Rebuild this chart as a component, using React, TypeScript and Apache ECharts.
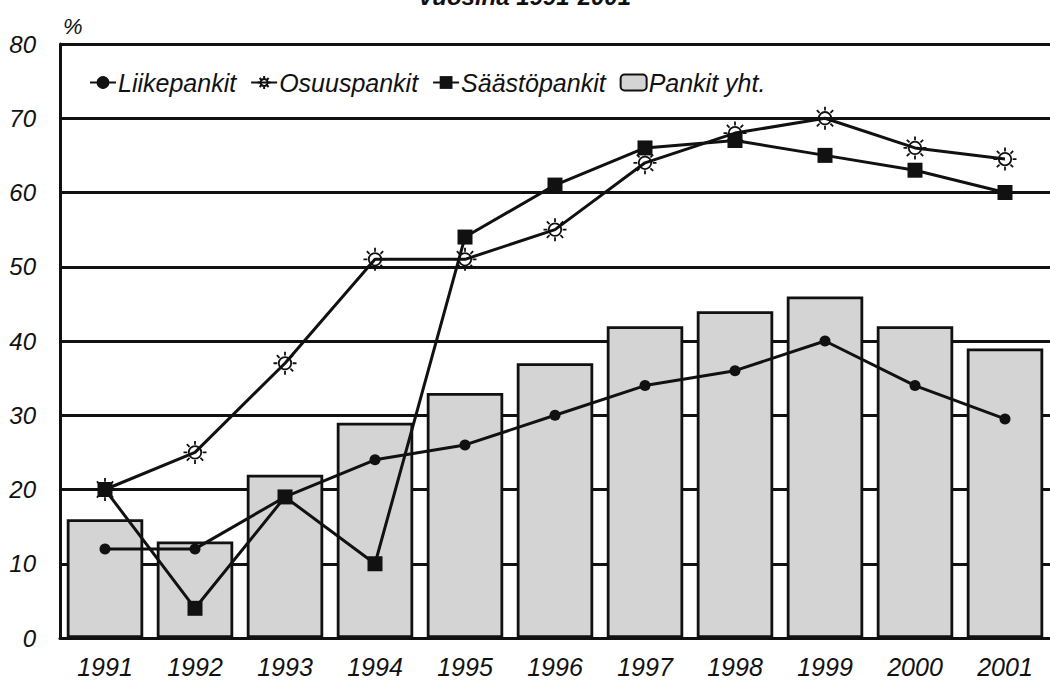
import React, { useEffect, useRef } from "react";
import * as echarts from "echarts";

const years = ["1991", "1992", "1993", "1994", "1995", "1996", "1997", "1998", "1999", "2000", "2001"];
const liikepankit = [12, 12, 19, 24, 26, 30, 34, 36, 40, 34, 29.5];
const osuuspankit = [20, 25, 37, 51, 51, 55, 64, 68, 70, 66, 64.5];
const saastopankit = [20, 4, 19, 10, 54, 61, 66, 67, 65, 63, 60];
const pankitYht = [16, 13, 22, 29, 33, 37, 42, 44, 46, 42, 39];

const SUN =
  "path://M18.5,12 A6.5,6.5 0 1,1 5.5,12 A6.5,6.5 0 1,1 18.5,12 Z M12,0 L12,4 M12,20 L12,24 M0,12 L4,12 M20,12 L24,12 M3.5,3.5 L6.3,6.3 M17.7,17.7 L20.5,20.5 M3.5,20.5 L6.3,17.7 M17.7,6.3 L20.5,3.5";

const FONT = "'Liberation Sans', Arial, sans-serif";

export default function App() {
  const ref = useRef<HTMLDivElement>(null);
  useEffect(() => {
    if (!ref.current) return;
    const chart = echarts.init(ref.current, undefined, { renderer: "svg" });
    chart.setOption({
      animation: false,
      backgroundColor: "#ffffff",
      textStyle: { fontFamily: FONT },
      graphic: [
        {
          type: "text",
          left: "center",
          top: -16,
          style: {
            text: "vuosina 1991-2001",
            font: `italic bold 24px ${FONT}`,
            fill: "#111",
          },
        },
        {
          type: "text",
          left: 63,
          top: 15,
          style: { text: "%", font: `italic 22px ${FONT}`, fill: "#111" },
        },
      ],
      legend: {
        left: 84,
        top: 65,
        itemGap: 14,
        itemWidth: 26,
        itemHeight: 16,
        textStyle: { fontSize: 25, fontStyle: "italic", color: "#111", fontFamily: FONT, padding: [0, 0, 0, -3] },
        data: [
          { name: "Liikepankit" },
          { name: "Osuuspankit" },
          { name: "Säästöpankit" },
          { name: "Pankit yht." },
        ],
      },
      grid: { left: 60, right: -4, top: 44, bottom: 42, containLabel: false },
      xAxis: {
        type: "category",
        data: years,
        axisLine: { show: true, lineStyle: { color: "#111", width: 3 } },
        axisTick: { show: false },
        axisLabel: { fontSize: 25, fontStyle: "italic", color: "#111", margin: 16, fontFamily: FONT },
        splitLine: { show: false },
      },
      yAxis: {
        type: "value",
        min: 0,
        max: 80,
        interval: 10,
        axisLine: { show: true, lineStyle: { color: "#111", width: 3 } },
        axisTick: { show: false },
        axisLabel: { fontSize: 24, fontStyle: "italic", color: "#111", margin: 24, fontFamily: FONT },
        splitLine: { show: true, lineStyle: { color: "#111", width: 2.8 } },
      },
      series: [
        {
          name: "Pankit yht.",
          type: "bar",
          data: pankitYht,
          barCategoryGap: "15%",
          itemStyle: { color: "#d4d4d4", borderColor: "#111", borderWidth: 2.8 },
          z: 1,
        },
        {
          name: "Liikepankit",
          type: "line",
          data: liikepankit,
          symbol: "circle",
          symbolSize: 11,
          lineStyle: { color: "#111", width: 3 },
          itemStyle: { color: "#111" },
          z: 3,
        },
        {
          name: "Osuuspankit",
          type: "line",
          data: osuuspankit,
          symbol: SUN,
          symbolSize: 23,
          lineStyle: { color: "#111", width: 3 },
          itemStyle: { color: "rgba(0,0,0,0)", borderColor: "#111", borderWidth: 1.8 },
          z: 3,
        },
        {
          name: "Säästöpankit",
          type: "line",
          data: saastopankit,
          symbol: "rect",
          symbolSize: 15,
          lineStyle: { color: "#111", width: 3 },
          itemStyle: { color: "#111" },
          z: 4,
        },
      ],
    });
    return () => chart.dispose();
  }, []);
  return (
    <div
      ref={ref}
      style={{ position: "absolute", left: 0, top: 0, width: 1050, height: 680 }}
    />
  );
}
